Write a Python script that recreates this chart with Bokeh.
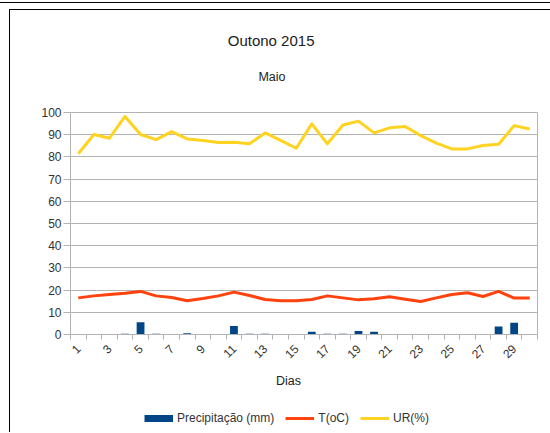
import math
from bokeh.plotting import figure
from bokeh.layouts import column
from bokeh.models import (Range1d, FixedTicker, Label, Legend, LegendItem,
                          ColumnDataSource, Div)
from bokeh.embed import file_html
from bokeh.resources import INLINE

# ---- data ----
dias = list(range(1, 31))
precipitacao = [0, 0, 0, 0.3, 5.5, 0.3, 0, 0.6, 0, 0,
                3.8, 0.3, 0.3, 0, 0, 1.2, 0.3, 0.3, 1.6, 1.2,
                0, 0, 0, 0, 0, 0, 0, 3.6, 5.3, 0]
temperatura = [16.5, 17.4, 18.0, 18.6, 19.4, 17.4, 16.7, 15.2, 16.2, 17.4,
               19.1, 17.6, 15.8, 15.2, 15.2, 15.8, 17.4, 16.5, 15.6, 16.1,
               17.0, 15.9, 14.9, 16.5, 18.0, 18.8, 17.1, 19.4, 16.4, 16.4]
umidade = [81.4, 90.1, 88.4, 98.2, 90.1, 87.8, 91.4, 88.1, 87.4, 86.5,
           86.6, 85.9, 90.8, 87.4, 83.9, 94.9, 85.9, 94.4, 96.1, 90.8,
           93.1, 93.7, 89.6, 86.2, 83.6, 83.6, 85.1, 85.7, 94.1, 92.6]
x_labels = [str(d) for d in range(1, 31, 2)]
y_ticks = list(range(0, 101, 10))
series_names = ["Precipitação (mm)", "T(oC)", "UR(%)"]

titulo = "Outono 2015"
subtitulo = "Maio"
eixo_x = "Dias"

FONT = "Liberation Sans"
BLUE = "#004586"
RED = "#ff420e"
YELLOW = "#ffd320"
GRID = "#b3b3b3"
TXT = "#333333"
TITLE_C = "#222222"
W = 540
FRAME_L, FRAME_R = 70, 537   # page pixels of the plot frame (column aligns frames)


def blank_fig(h):
    f = figure(width=W, height=h, x_range=Range1d(FRAME_L, FRAME_R), y_range=Range1d(0, h),
               x_axis_type=None, y_axis_type=None, output_backend="svg",
               toolbar_location=None, min_border=0,
               min_border_left=60, min_border_right=13)
    f.outline_line_color = None
    f.xgrid.grid_line_color = None
    f.ygrid.grid_line_color = None
    f.background_fill_color = "white"
    f.border_fill_color = "white"
    return f


src = ColumnDataSource(dict(dia=dias, prec=precipitacao, temp=temperatura, ur=umidade))

# ---- title area ----
top = blank_fig(90)
top.add_layout(Label(x=270.6, y=60.5, text=titulo, text_align="center", text_baseline="middle",
                     text_font=FONT, text_font_size="15px", text_color=TITLE_C))
top.add_layout(Label(x=271.5, y=23.3, text=subtitulo, text_align="center", text_baseline="middle",
                     text_font=FONT, text_font_size="12.5px", text_color=TITLE_C))

# ---- main chart ----
p = figure(width=W, height=272,
           x_range=Range1d(0.5, 30.5), y_range=Range1d(0, 100),
           output_backend="svg", toolbar_location=None,
           min_border_left=60, min_border_right=13,
           min_border_top=12, min_border_bottom=38)
p.outline_line_color = GRID
p.background_fill_color = "white"
p.border_fill_color = "white"

p.vbar(x="dia", top="prec", width=0.5, bottom=0, source=src,
       fill_color=BLUE, line_color=None)
p.line(x="dia", y="temp", source=src, line_color=RED, line_width=3, line_join="round")
p.line(x="dia", y="ur", source=src, line_color=YELLOW, line_width=3, line_join="round")

xa = p.xaxis[0]
xa.ticker = FixedTicker(ticks=[int(s) for s in x_labels],
                        minor_ticks=[d - 0.5 for d in dias] + [30.5])
xa.major_tick_line_color = None
xa.minor_tick_line_color = GRID
xa.minor_tick_out = 5
xa.minor_tick_in = 0
xa.axis_line_color = GRID
xa.major_label_orientation = math.pi / 4
xa.major_label_standoff = 6
xa.major_label_text_font = FONT
xa.major_label_text_font_size = "12px"
xa.major_label_text_color = TXT

ya = p.yaxis[0]
ya.ticker = FixedTicker(ticks=y_ticks)
ya.minor_tick_line_color = None
ya.major_tick_line_color = GRID
ya.major_tick_out = 7
ya.major_tick_in = 0
ya.axis_line_color = GRID
ya.major_label_standoff = 2
ya.major_label_text_font = FONT
ya.major_label_text_font_size = "12px"
ya.major_label_text_color = TXT

p.xgrid.grid_line_color = None
p.ygrid.ticker = FixedTicker(ticks=y_ticks)
p.ygrid.grid_line_color = GRID

# ---- axis title + legend area ----
bot = blank_fig(60)
bot.add_layout(Label(x=288, y=51.3, text=eixo_x, text_align="center", text_baseline="middle",
                     text_font=FONT, text_font_size="12.5px", text_color=TITLE_C))
# legend swatch renderers (data lies outside this panel's range, so only the legend shows)
sw_p = bot.line(x="dia", y="prec", source=src, line_color=BLUE, line_width=7, line_cap="butt")
sw_t = bot.line(x="dia", y="temp", source=src, line_color=RED, line_width=3)
sw_u = bot.line(x="dia", y="ur", source=src, line_color=YELLOW, line_width=3)
legend = Legend(items=[LegendItem(label=series_names[0], renderers=[sw_p]),
                       LegendItem(label=series_names[1], renderers=[sw_t]),
                       LegendItem(label=series_names[2], renderers=[sw_u])],
                orientation="horizontal", location=(74, 7),
                padding=0, margin=0, spacing=11, label_standoff=4,
                glyph_width=29, glyph_height=8, label_height=14,
                border_line_color=None, background_fill_alpha=0,
                label_text_font=FONT, label_text_font_size="12px",
                label_text_color=TXT)
bot.add_layout(legend)

topline = Div(text="", width=550, height=1, margin=(2, 0, 0, 0),
              styles={"background-color": "#000"})
box = column(top, p, bot, spacing=0, margin=(6, 0, 0, 9),
             styles={"border-left": "1px solid #000", "border-top": "1px solid #000"})

layout = column(topline, box, spacing=0)
open("out.html", "w").write(file_html(layout, INLINE))
